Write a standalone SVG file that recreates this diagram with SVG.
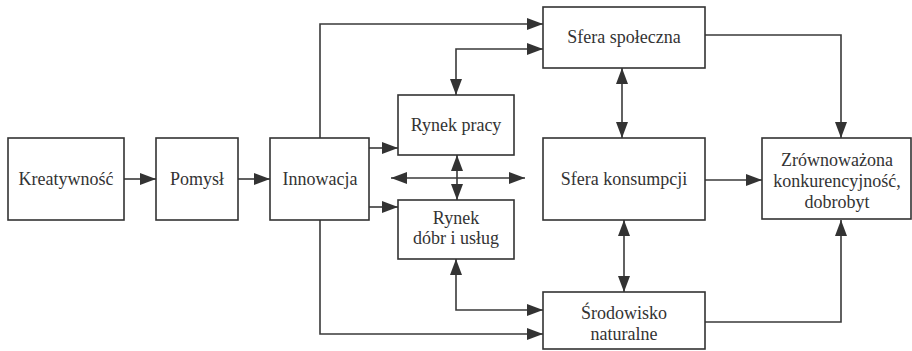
<svg xmlns="http://www.w3.org/2000/svg" width="912" height="351" viewBox="0 0 912 351">
<style>
.box{fill:#fff;stroke:#333;stroke-width:1.6}
.c{fill:none;stroke:#3a3a3a;stroke-width:1.6}
</style>
<defs>
<marker id="a" viewBox="0 0 16 12" refX="16" refY="6" markerWidth="16" markerHeight="12" markerUnits="userSpaceOnUse" orient="auto-start-reverse">
<path d="M0,0 L16,6 L0,12 z" fill="#333"/>
</marker>
</defs>
<rect width="912" height="351" fill="#fff"/>
<g id="connectors">
<path class="c" d="M124,179 H156" marker-end="url(#a)"/>
<path class="c" d="M238,179 H270" marker-end="url(#a)"/>
<path class="c" d="M320,138 V24 H543" marker-end="url(#a)"/>
<path class="c" d="M456,95 V49 H543" marker-start="url(#a)" marker-end="url(#a)"/>
<path class="c" d="M369,148 H398" marker-end="url(#a)"/>
<path class="c" d="M369,207 H398" marker-end="url(#a)"/>
<path class="c" d="M391,178 H525" marker-start="url(#a)" marker-end="url(#a)"/>
<path class="c" d="M457,155 V200" marker-start="url(#a)" marker-end="url(#a)"/>
<path class="c" d="M456,259 V310 H543" marker-start="url(#a)" marker-end="url(#a)"/>
<path class="c" d="M320,220 V334 H543" marker-end="url(#a)"/>
<path class="c" d="M622,68 V138" marker-start="url(#a)" marker-end="url(#a)"/>
<path class="c" d="M624,220 V292" marker-start="url(#a)" marker-end="url(#a)"/>
<path class="c" d="M705,35 H841 V138" marker-end="url(#a)"/>
<path class="c" d="M705,180 H762" marker-end="url(#a)"/>
<path class="c" d="M705,322 H841 V220" marker-end="url(#a)"/>
</g>
<g font-family="Liberation Serif, DejaVu Serif, serif" font-size="18" fill="#333" text-anchor="middle">
<g id="kreatywnosc"><rect class="box" x="8" y="138" width="116" height="82"/><text x="66" y="185">Kreatywność</text></g>
<g id="pomysl"><rect class="box" x="156" y="138" width="82" height="82"/><text x="197" y="185">Pomysł</text></g>
<g id="innowacja"><rect class="box" x="270" y="138" width="99" height="82"/><text x="320" y="185">Innowacja</text></g>
<g id="rynek-pracy"><rect class="box" x="398" y="95" width="116" height="60"/><text x="456" y="131">Rynek pracy</text></g>
<g id="rynek-dobr"><rect class="box" x="398" y="200" width="116" height="59"/><text x="456" y="224">Rynek</text><text x="456" y="244">dóbr i usług</text></g>
<g id="sfera-spoleczna"><rect class="box" x="543" y="7" width="162" height="61"/><text x="624" y="43">Sfera społeczna</text></g>
<g id="sfera-konsumpcji"><rect class="box" x="543" y="138" width="162" height="82"/><text x="624" y="185">Sfera konsumpcji</text></g>
<g id="srodowisko"><rect class="box" x="543" y="292" width="162" height="57"/><text x="624" y="319">Środowisko</text><text x="624" y="340">naturalne</text></g>
<g id="zrownowazona"><rect class="box" x="762" y="138" width="149" height="81"/><text x="837" y="166">Zrównoważona</text><text x="837" y="187">konkurencyjność,</text><text x="837" y="208">dobrobyt</text></g>
</g>
</svg>
